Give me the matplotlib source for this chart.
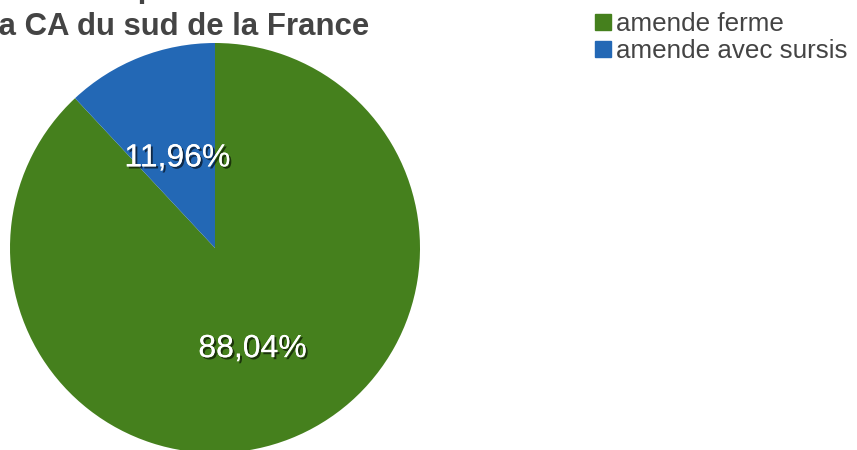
import matplotlib
matplotlib.use("Agg")
import matplotlib.pyplot as plt
import matplotlib.patches as mpatches
import matplotlib.patheffects as pe

plt.rcParams["font.family"] = ["Liberation Sans", "DejaVu Sans"]

# données
categories = ["amende ferme", "amende avec sursis"]
parts = [88.04, 11.96]
couleurs = ["#45801D", "#2368B5"]
titre_l1 = "Amendes prononcées dans"
titre_l2 = "la CA du sud de la France"

W, H = 857, 450
fig = plt.figure(figsize=(W / 100, H / 100), dpi=100)

# camembert : centre (215, 248) px, rayon 205 px
cx, cy, r = 215, 248, 205
ax = fig.add_axes([(cx - r) / W, (H - cy - r) / H, 2 * r / W, 2 * r / H])
wedges, _, autotexts = ax.pie(
    parts, colors=couleurs, startangle=90, counterclock=False,
    autopct=lambda p: f"{p:.2f}%".replace(".", ","), pctdistance=0.5,
    wedgeprops=dict(linewidth=0),
    textprops=dict(color="white", fontsize=23),
)
for t in autotexts:
    x, y = t.get_position()
    t.set_position((x, y - 0.028))
    t.set_path_effects([pe.withSimplePatchShadow(offset=(1.5, -1.5),
                                                 shadow_rgbFace="black", alpha=0.6),
                        pe.Normal()])
ax.set_xlim(-1, 1)
ax.set_ylim(-1, 1)
ax.axis("off")

# titre (coupé en haut et à gauche)
fig.text(-11 / W, 1 + 3 / H, titre_l1, ha="left", va="baseline",
         fontsize=22.4, fontweight="bold", color="#444444")
fig.text(-10 / W, 1 - 35 / H, titre_l2, ha="left", va="baseline",
         fontsize=22.4, fontweight="bold", color="#444444")

# légende
handles = [mpatches.Patch(color=c, label=l) for c, l in zip(couleurs, categories)]
fig.legend(handles=handles, loc="upper left", bbox_to_anchor=(585 / W, 1 - 2 / H),
           frameon=False, fontsize=18.7, handlelength=0.6, handleheight=0.6,
           handletextpad=0.2, labelspacing=0.1, borderaxespad=0,
           labelcolor="#444444")

fig.savefig("out.png", dpi=100)
